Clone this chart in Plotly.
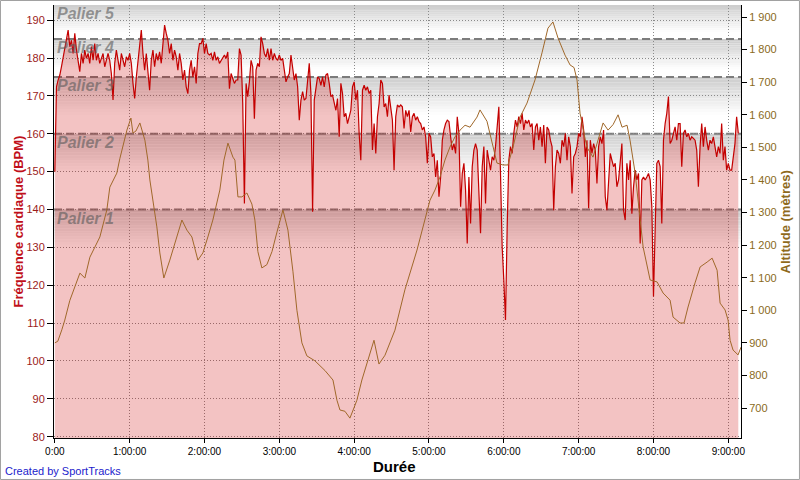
import plotly.graph_objects as go

# ---------------- data ----------------
hr_seconds = [
    0, 27, 54,
    80, 160, 240, 320, 400, 480, 560, 640, 720, 800,
    880, 960, 1040, 1120, 1200, 1280, 1360, 1440, 1520, 1600,
    1680, 1760, 1840, 1920, 2000, 2080, 2160, 2240, 2320, 2400,
    2480, 2560, 2640, 2720, 2800, 2880, 2960, 3040, 3120, 3200,
    3280, 3360, 3440, 3520, 3600, 3680, 3760, 3840, 3920, 4000,
    4080, 4160, 4240, 4320, 4400, 4480, 4560, 4640, 4720, 4800,
    4880, 4960, 5040, 5120, 5200, 5280, 5360, 5440, 5520, 5600,
    5680, 5760, 5840, 5920, 6000, 6080, 6160, 6240, 6320, 6400,
    6480, 6560, 6640, 6720, 6800, 6880, 6960, 7040, 7120, 7200,
    7280, 7360, 7440, 7520, 7600, 7680, 7760, 7840, 7920, 8000,
    8080, 8160, 8240, 8320, 8400, 8480, 8560, 8640, 8720, 8800,
    8880, 8960, 9040, 9120, 9200, 9280, 9360, 9440, 9520, 9600,
    9680, 9760, 9840, 9920, 10000, 10080, 10160, 10240, 10320, 10400,
    10480, 10560, 10640, 10720, 10800, 10880, 10960, 11040, 11120, 11200,
    11280, 11360, 11440, 11520, 11600, 11680, 11760, 11840, 11920, 12000,
    12080, 12160, 12240, 12320, 12400, 12480, 12560, 12640, 12720, 12800,
    12880, 12960, 13040, 13120, 13200, 13280, 13360, 13440, 13520, 13600,
    13680, 13760, 13840, 13920, 14000, 14080, 14160, 14240, 14320, 14400,
    14480, 14560, 14640, 14720, 14800, 14880, 14960, 15040, 15120, 15200,
    15280, 15360, 15440, 15520, 15600, 15680, 15760, 15840, 15920, 16000,
    16080, 16160, 16240, 16320, 16400, 16480, 16560, 16640, 16720, 16800,
    16880, 16960, 17040, 17120, 17200, 17280, 17360, 17440, 17520, 17600,
    17680, 17760, 17840, 17920, 18000, 18080, 18160, 18240, 18320, 18400,
    18480, 18560, 18640, 18720, 18800, 18880, 18960, 19040, 19120, 19200,
    19280, 19360, 19440, 19520, 19600, 19680, 19760, 19840, 19920, 20000,
    20080, 20160, 20240, 20320, 20400, 20480, 20560, 20640, 20720, 20800,
    20880, 20960, 21040, 21120, 21200, 21280, 21360, 21440, 21520, 21600,
    21680, 21760, 21840, 21920, 22000, 22080, 22160, 22240, 22320, 22400,
    22480, 22560, 22640, 22720, 22800, 22880, 22960, 23040, 23120, 23200,
    23280, 23360, 23440, 23520, 23600, 23680, 23760, 23840, 23920, 24000,
    24080, 24160, 24240, 24320, 24400, 24480, 24560, 24640, 24720, 24800,
    24880, 24960, 25040, 25120, 25200, 25280, 25360, 25440, 25520, 25600,
    25680, 25760, 25840, 25920, 26000, 26080, 26160, 26240, 26320, 26400,
    26480, 26560, 26640, 26720, 26800, 26880, 26960, 27040, 27120, 27200,
    27280, 27360, 27440, 27520, 27600, 27680, 27760, 27840, 27920, 28000,
    28080, 28160, 28240, 28320, 28400, 28480, 28560, 28640, 28720, 28800,
    28880, 28960, 29040, 29120, 29200, 29280, 29360, 29440, 29520, 29600,
    29680, 29760, 29840, 29920, 30000, 30080, 30160, 30240, 30320, 30400,
    30480, 30560, 30640, 30720, 30800, 30880, 30960, 31040, 31120, 31200,
    31280, 31360, 31440, 31520, 31600, 31680, 31760, 31840, 31920, 32000,
    32080, 32160, 32240, 32320, 32400, 32480, 32560, 32640, 32720, 32800,
    32880,
]

hr_bpm = [
    150, 162, 170,
    # 0:00 - 1:56
    172.4, 174.2, 175.5, 177.7, 180.3, 182.1, 184.7, 187.4, 183.0, 184.7,
    181.2, 186.5, 182.1, 179.4, 176.4, 181.2, 178.6, 182.1, 179.9, 181.2,
    178.6, 183.0, 179.4, 183.8, 179.4, 181.2, 178.6, 179.9, 181.2, 177.7,
    179.4, 181.2, 179.4, 175.9, 168.9, 178.6, 182.1, 179.4, 176.8, 181.2,
    179.4, 177.7, 180.3, 179.4, 181.2, 178.6, 173.3, 169.3, 175.0, 179.4,
    182.1, 187.4, 181.2, 176.8, 181.2, 175.0, 171.5, 179.4, 182.1, 177.7,
    181.2, 179.4, 181.6, 178.6, 183.8, 188.7, 186.5, 184.7, 181.2, 183.8,
    179.4, 182.1, 180.3, 176.8, 181.2, 178.6, 174.2, 176.8, 172.4, 170.6,
    176.8, 179.4, 175.0, 177.7, 173.3, 181.2, 183.8,
    # 1:56 - 3:52
    183.8, 185.2, 181.2, 183.8, 181.2, 180.8, 181.2, 179.4, 181.6, 179.4,
    180.3, 178.6, 179.4, 180.3, 180.8, 179.9, 181.6, 171.9, 175.9, 174.6,
    173.3, 174.2, 174.2, 182.5, 180.8, 168.0, 141.6, 173.3, 169.8, 173.7,
    179.4, 177.7, 164.0, 176.8, 178.6, 177.7, 185.6, 183.8, 181.2, 180.3,
    182.5, 179.4, 182.5, 179.4, 181.2, 179.9, 179.4, 180.8, 179.4, 179.9,
    175.9, 173.7, 175.0, 175.9, 180.8, 176.8, 174.2, 175.9, 172.4, 163.6,
    168.9, 171.1, 168.9, 169.3, 175.0, 178.6, 170.6, 139.4, 168.9, 171.5,
    175.0, 174.6, 172.8, 175.0, 172.4, 175.5, 175.9, 173.3, 169.8, 170.2,
    168.0, 166.2, 169.3, 159.2, 173.3, 170.6, 164.5,
    # 3:52 - 5:49
    165.4, 162.7, 164.9, 166.2, 172.4, 173.7, 168.9, 171.5, 160.1, 153.0,
    171.5, 172.8, 171.5, 172.4, 170.6, 171.5, 155.7, 162.7, 154.8, 164.5,
    168.0, 174.2, 173.3, 167.1, 168.0, 164.5, 170.2, 167.1, 163.6, 150.4,
    164.5, 167.6, 167.1, 167.6, 167.1, 161.4, 166.2, 164.5, 166.2, 160.5,
    164.5, 165.4, 163.6, 164.5, 163.2, 162.7, 161.0, 161.8, 159.2, 152.2,
    160.1, 159.2, 153.9, 154.8, 148.6, 153.0, 143.4, 148.6, 158.3, 161.0,
    162.7, 163.6, 163.2, 159.2, 155.7, 157.4, 154.8, 164.5, 160.1, 140.7,
    149.5, 152.2, 145.1, 131.0, 148.6, 136.3, 151.3, 155.7, 157.4, 155.7,
    146.0, 133.7, 151.3, 156.6, 141.6, 155.7, 153.0,
    # 5:49 - 7:32
    150.4, 153.9, 153.0, 156.6, 161.0, 167.1, 149.5, 130.2, 121.4, 110.8,
    135.0, 153.0, 156.6, 154.8, 160.1, 163.6, 161.8, 164.5, 162.7, 165.4,
    161.0, 163.6, 162.7, 163.6, 161.8, 162.7, 155.7, 161.8, 162.7, 158.3,
    161.8, 156.6, 162.3, 152.2, 161.8, 161.0, 158.3, 156.6, 139.8, 151.3,
    155.7, 154.8, 152.2, 158.3, 156.6, 160.1, 153.0, 159.2, 156.6, 144.2,
    153.9, 154.8, 156.6, 160.1, 159.2, 164.5, 161.0, 153.9, 158.3, 140.3,
    158.3, 154.8, 157.4, 155.7, 146.9, 156.6, 159.2, 157.4, 161.0, 143.4,
    139.8, 147.8, 154.8, 153.0, 151.3, 152.2, 146.0,
    # 7:32 - 9:09
    147.8, 152.2, 157.4, 139.8, 137.2, 152.2, 147.8, 153.0, 138.9, 146.0,
    150.4, 147.8, 149.5, 131.0, 147.8, 148.6, 147.8, 148.6, 149.5, 147.8,
    140.7, 117.0, 138.9, 152.2, 153.0, 151.3, 136.3, 158.3, 162.7, 165.4,
    169.8, 157.4, 158.3, 160.1, 161.8, 158.3, 162.7, 162.7, 151.3, 160.1,
    161.0, 159.2, 160.1, 158.3, 159.2, 158.8, 158.3, 155.7, 146.0, 156.6,
    162.7, 156.6, 161.8, 158.3, 155.7, 158.3, 157.4, 159.2, 156.6, 153.9,
    156.6, 154.8, 162.7, 153.0, 156.6, 150.4, 152.2, 150.4, 150.4, 154.8,
    157.4, 164.5, 160.1,
]

alt_seconds = [
    0, 144, 336, 480, 720, 960, 1206, 1446, 1686, 2166, 2502, 2646, 2982, 3126,
    3468, 3660, 3756, 3900, 4092, 4332, 4476, 4572, 4716, 4908, 5052, 5244, 5532,
    5874, 6114, 6354, 6594, 6882, 7122, 7362, 7602, 7938, 8136, 8328, 8568, 8664,
    8808, 9000, 9240, 9480, 9624, 9768, 9960, 10200, 10446, 10686, 10974, 11214,
    11454, 11646, 11886, 12126, 12510, 12996, 13380, 13572, 13716, 13956, 14196,
    14388, 14532, 14772, 15066, 15354, 15594, 15882, 16362, 16842, 17424, 17712,
    18048, 18288, 18528, 18768, 19008, 19248, 19494, 19734, 19974, 20310, 20454,
    20790, 21078, 21270, 21558, 21798, 22044, 22380, 22716, 23100, 23436, 23724,
    23964, 24210, 24546, 24786, 24978, 25122, 25266, 25590, 25890, 26130, 26376,
    26616, 26856, 27096, 27288, 27528, 27672, 27918, 28158, 28302, 28638, 28974,
    29262, 29598, 29742, 30078, 30270, 30462, 30798, 31044, 31380, 31620, 31860,
    32004, 32244, 32388, 32484, 32628, 32868, 33012,
]

alt_m = [
    900, 905, 940, 970, 1030, 1070, 1114, 1099, 1163, 1225, 1308, 1378, 1421, 1465,
    1553, 1590, 1544, 1550, 1575, 1522, 1461, 1400, 1338, 1256, 1176, 1099, 1154,
    1225, 1277, 1246, 1225, 1154, 1176, 1225, 1277, 1369, 1461, 1513, 1470, 1461,
    1348, 1348, 1360, 1326, 1277, 1180, 1130, 1140, 1180, 1240, 1308, 1246,
    1120, 1000, 900, 860, 845, 815, 786, 724, 694, 690, 669,
    700, 724, 786, 847, 908, 835, 862, 939, 1063, 1185, 1256,
    1338, 1369, 1409, 1461, 1501, 1532, 1553, 1568, 1562, 1593, 1615,
    1580, 1501, 1452, 1446, 1446, 1501, 1593, 1636, 1707, 1790, 1866,
    1885, 1835, 1783, 1753, 1745, 1707, 1605, 1501, 1470, 1520, 1575,
    1553, 1570, 1600, 1562, 1568, 1522, 1421, 1277, 1194, 1093, 1087,
    1053, 1031, 979, 961, 961, 1010, 1084, 1133, 1148, 1160, 1123,
    1022, 1001, 970, 908, 878, 863, 887,
]

zone_limits = [140, 160, 175, 185]
zone_labels = ["Palier 1", "Palier 2", "Palier 3", "Palier 4", "Palier 5"]

hour_ticks = [0, 3600, 7200, 10800, 14400, 18000, 21600, 25200, 28800, 32400]
hour_labels = ["0:00", "1:00:00", "2:00:00", "3:00:00", "4:00:00", "5:00:00",
               "6:00:00", "7:00:00", "8:00:00", "9:00:00"]
hr_ticks = [80, 90, 100, 110, 120, 130, 140, 150, 160, 170, 180, 190]
alt_ticks = [700, 800, 900, 1000, 1100, 1200, 1300, 1400, 1500, 1600, 1700, 1800, 1900]
alt_tick_labels = ["700", "800", "900", "1 000", "1 100", "1 200", "1 300", "1 400",
                   "1 500", "1 600", "1 700", "1 800", "1 900"]

# ---------------- layout constants ----------------
X_RANGE = [-40, 33010]
Y_RANGE = [79.66, 194.0]
Y2_RANGE = [608, 1937]
FONT = "Liberation Sans, Arial, sans-serif"
GRID = dict(showgrid=True, gridcolor="#8a8a8a", griddash="1px,2px", gridwidth=1)

n_hr = min(len(hr_seconds), len(hr_bpm))
n_alt = min(len(alt_seconds), len(alt_m))

fig = go.Figure()

fig.add_trace(go.Scatter(
    x=hr_seconds[:n_hr], y=hr_bpm[:n_hr], mode="lines",
    line=dict(color="#c40000", width=1.2),
    fill="tozeroy", fillcolor="rgba(204,0,0,0.235)",
    hoverinfo="skip", showlegend=False,
))
fig.add_trace(go.Scatter(
    x=alt_seconds[:n_alt], y=alt_m[:n_alt], mode="lines", yaxis="y2",
    line=dict(color="#a0682a", width=1),
    hoverinfo="skip", showlegend=False,
))

# zone shading (grey gradient below each zone boundary)
tops = [Y_RANGE[1]] + sorted(zone_limits, reverse=True)
bottoms = sorted(zone_limits, reverse=True) + [Y_RANGE[0]]
steps = 14
for top, bottom in zip(tops, bottoms):
    depth = min(10.0, 0.8 * (top - bottom))
    for i in range(steps):
        ya = top - depth * i / steps
        yb = top - depth * (i + 1) / steps
        g = int(round(204 + (255 - 204) * (i + 0.5) / steps))
        fig.add_shape(type="rect", xref="paper", yref="y", x0=0, x1=1,
                      y0=yb, y1=ya, fillcolor=f"rgb({g},{g},{g})",
                      line=dict(width=0), layer="below")

for lim in zone_limits:
    fig.add_shape(type="line", xref="paper", yref="y", x0=0, x1=1, y0=lim, y1=lim,
                  line=dict(color="#7c7c7c", width=2, dash="8px,4px"), layer="between")

annotations = []
label_levels = [zone_limits[0], zone_limits[1], zone_limits[2], zone_limits[3], Y_RANGE[1]]
for lab, lvl in zip(zone_labels, label_levels):
    annotations.append(dict(
        text=f"<b><i>{lab}</i></b>", x=0, xref="paper", xanchor="left",
        y=lvl, yref="y", yanchor="top", yshift=2, xshift=1, showarrow=False,
        font=dict(family=FONT, size=16, color="rgba(90,90,90,0.6)"),
    ))

annotations += [
    dict(text="<b>Durée</b>", x=0.495, y=-0.0647, xref="paper", yref="paper",
         xanchor="center", yanchor="middle", showarrow=False,
         font=dict(family=FONT, size=15, color="#000000")),
    dict(text="<b>Fréquence cardiaque (BPM)</b>", x=-0.0524, y=0.5, xref="paper",
         yref="paper", xanchor="center", yanchor="middle", textangle=-90,
         showarrow=False, font=dict(family=FONT, size=13, color="#c0101a")),
    dict(text="<b>Altitude (mètres)</b>", x=1.0655, y=0.5, xref="paper",
         yref="paper", xanchor="center", yanchor="middle", textangle=-90,
         showarrow=False, font=dict(family=FONT, size=13, color="#8f6a1c")),
    dict(text="Created by SportTracks", x=-0.0742, y=-0.0762, xref="paper",
         yref="paper", xanchor="left", yanchor="middle", showarrow=False,
         font=dict(family=FONT, size=11, color="#1c1ccc")),
]

# outer frame
fig.add_shape(type="rect", xref="paper", yref="paper",
              x0=-0.0779, x1=1.0851, y0=-0.0958, y1=1.0104,
              line=dict(color="#a0a0a0", width=1), layer="above")

fig.update_layout(
    width=800, height=480,
    margin=dict(l=54, r=59, t=5, b=42),
    paper_bgcolor="white", plot_bgcolor="white",
    showlegend=False,
    annotations=annotations,
    xaxis=dict(
        range=X_RANGE, tickvals=hour_ticks, ticktext=hour_labels,
        ticks="outside", ticklen=4, tickcolor="#000000",
        showline=True, linecolor="#000000", linewidth=1,
        zeroline=False, tickfont=dict(family=FONT, size=10, color="#000000"),
        **GRID,
    ),
    yaxis=dict(
        range=Y_RANGE, tickvals=hr_ticks,
        ticks="outside", ticklen=6, tickcolor="#000000",
        showline=True, linecolor="#000000", linewidth=1,
        zeroline=False, tickfont=dict(family=FONT, size=11, color="#9b1b1b"),
        **GRID,
    ),
    yaxis2=dict(
        range=Y2_RANGE, tickvals=alt_ticks, ticktext=alt_tick_labels,
        overlaying="y", side="right",
        ticks="outside", ticklen=5, tickcolor="#000000",
        showline=True, linecolor="#000000", linewidth=1,
        showgrid=False, zeroline=False,
        tickfont=dict(family=FONT, size=11, color="#8a6a1c"),
    ),
)

fig.write_html(
    "out.html",
    config={"displayModeBar": False, "staticPlot": True},
    post_script="document.body.style.margin='0';document.body.style.padding='0';"
                "document.body.style.overflow='hidden';",
)
